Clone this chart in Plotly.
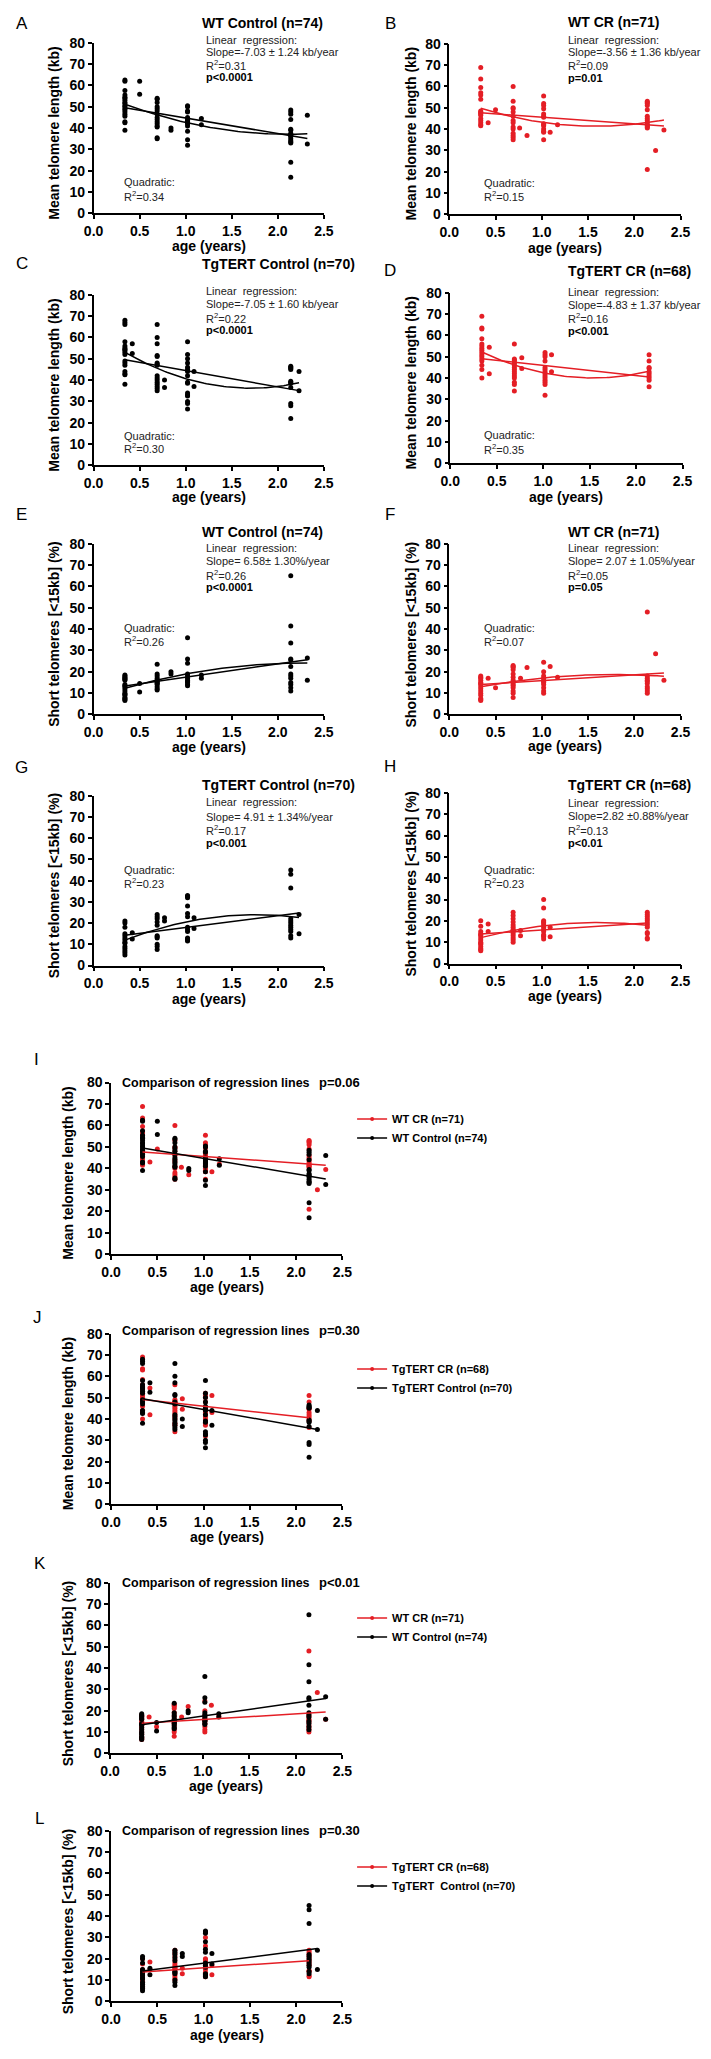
import numpy as np
import plotly.graph_objects as go

# ---- data: {age (years): [values]} ----
wt_ctrl_len = {
    0.34: [62.5, 62, 57.6, 55.5, 54.5, 54, 53, 52, 51.5, 50.5, 50, 49, 48.5, 47.5, 46.5, 45.5, 43, 42.5, 39],
    0.50: [62, 55.8],
    0.69: [54, 53.5, 52, 50, 49, 48, 46.5, 45, 44, 43, 42, 41, 40.5, 35.5, 35],
    0.84: [40, 39],
    1.02: [50.5, 50, 48, 47.5, 45, 44, 43.5, 43, 42.5, 42, 41, 38.5, 34.5, 32],
    1.17: [44.5, 41.5],
    2.14: [48.5, 47.5, 46.5, 44, 39.5, 39, 37.5, 37, 36.5, 36, 35, 34, 33.5, 33, 24, 17],
    2.32: [46, 32.5],
}
wt_cr_len = {
    0.34: [68.8, 63.5, 59.5, 57, 56, 54, 48.5, 48, 47.5, 47, 46.5, 45, 44, 43, 42, 41.5],
    0.42: [43],
    0.50: [49],
    0.69: [60, 53, 50, 49.5, 48, 46, 44, 43, 41, 40, 38, 37, 36, 35],
    0.76: [40.5],
    0.84: [37],
    1.02: [55.5, 52, 51, 49.5, 47, 46, 45.5, 42.5, 42, 41.5, 40, 39, 38.5, 35],
    1.09: [38.5],
    1.17: [42],
    2.14: [53, 52.5, 52, 51, 49, 46, 45, 44, 43, 42, 41.5, 41, 40.5, 21],
    2.23: [30],
    2.32: [39.5],
}
tg_ctrl_len = {
    0.34: [68, 67, 66, 58, 56, 55, 54.5, 54, 53, 52, 49, 48, 47, 44, 43, 42.5, 38],
    0.42: [57, 52.5],
    0.69: [66, 60, 57, 51.5, 51, 48, 47.5, 47, 42, 41, 40, 39, 38, 37, 36, 35],
    0.77: [40, 36.5],
    1.02: [58, 52, 50, 48, 46, 45, 44, 42, 39, 38.5, 34, 33, 32.5, 30, 29, 26.5],
    1.09: [44, 37],
    2.14: [46.5, 46, 45.5, 45, 39.5, 39, 38.5, 36.5, 29, 28, 22],
    2.23: [44, 35],
}
tg_cr_len = {
    0.34: [69, 63.5, 63, 58.5, 56, 55, 54, 53, 52, 51, 50, 49, 48, 46, 44, 40],
    0.42: [54.5, 42],
    0.69: [56, 49, 48.5, 48, 47, 46, 45, 44, 43, 42, 41, 40, 38, 37, 34],
    0.77: [49.5, 44.5],
    1.02: [52, 51, 50, 48, 45, 44, 43, 42, 41, 40, 39, 38, 37, 32],
    1.09: [51, 43],
    2.14: [51, 48, 45, 44.5, 43, 42, 41, 40, 39, 36],
}
wt_ctrl_short = {
    0.34: [18.5, 18, 17.5, 17, 16.5, 16, 14, 13.5, 13, 12, 11, 10, 9.5, 9, 8, 7.5, 7, 6.5],
    0.50: [14.5, 10.5],
    0.69: [23.5, 19, 18, 17, 16, 15.5, 15, 14.5, 14, 13, 12, 11.5],
    0.84: [20, 19],
    1.02: [36, 26, 24, 19, 18, 17, 16, 15.5, 15, 14, 13.5],
    1.17: [18.5, 17],
    2.14: [65, 41.5, 33.5, 26, 25.5, 22.5, 19, 18, 17, 15, 14, 12.5, 11],
    2.32: [26.5, 16],
}
wt_cr_short = {
    0.34: [18, 17.5, 17, 16, 15, 14.5, 14, 13, 12, 11, 10, 9, 7.5, 7, 6.5],
    0.42: [17],
    0.50: [12.5],
    0.69: [23, 22.5, 22, 21, 19, 17.5, 16, 15, 14, 13.5, 12.5, 11, 10, 8],
    0.77: [17],
    0.84: [22],
    1.02: [24.5, 20, 18, 17, 16, 15.5, 15, 14, 12.5, 11, 10],
    1.09: [22.5],
    1.17: [17.5],
    2.14: [48, 18, 17, 16, 15.5, 14.5, 13, 12, 11, 10],
    2.23: [28.5],
    2.32: [16],
}
tg_ctrl_short = {
    0.34: [21, 20, 18, 15, 14, 13, 12, 11, 10.5, 9, 8, 7, 6, 5],
    0.42: [15.5, 12.5],
    0.69: [24, 23, 22, 20.5, 19, 14, 13.5, 13, 10, 9, 7.5],
    0.77: [22.5, 21],
    1.02: [33, 32.5, 32, 28, 24.5, 23, 18, 17, 16, 13, 12.5, 12, 11.5],
    1.09: [22.5, 17.5],
    2.14: [45, 43, 36.5, 22, 21, 20, 19, 18, 17, 16, 14, 13],
    2.23: [24, 15],
}
tg_cr_short = {
    0.34: [20, 17.5, 15, 14, 13.5, 13, 12, 11, 10, 9.5, 9, 8, 7, 6.5, 6],
    0.42: [18.5, 15],
    0.69: [24, 22.5, 21, 19.5, 18, 17, 16, 15.5, 15, 14, 13, 12, 11, 10],
    0.77: [15.5, 13],
    1.02: [30, 26, 20, 19.5, 19, 18, 17, 16, 15, 13.5, 13, 12.5, 11.5],
    1.09: [17, 12.5],
    2.14: [24, 23, 22, 21, 20, 19, 18, 17, 14.5, 14, 12, 11.5],
}

titles = ["WT Control (n=74)", "WT CR (n=71)", "TgTERT Control (n=70)", "TgTERT CR (n=68)",
          "WT Control (n=74)", "WT CR (n=71)", "TgTERT Control (n=70)", "TgTERT CR (n=68)"]
slope_txt = ["Slope=-7.03 ± 1.24 kb/year", "Slope=-3.56 ± 1.36 kb/year",
             "Slope=-7.05 ± 1.60 kb/year", "Slope=-4.83 ± 1.37 kb/year",
             "Slope= 6.58± 1.30%/year", "Slope= 2.07 ± 1.05%/year",
             "Slope= 4.91 ± 1.34%/year", "Slope=2.82 ±0.88%/year"]
lin_r2 = ["0.31", "0.09", "0.22", "0.16", "0.26", "0.05", "0.17", "0.13"]
p_txt = ["p&lt;0.0001", "p=0.01", "p&lt;0.0001", "p&lt;0.001",
         "p&lt;0.0001", "p=0.05", "p&lt;0.001", "p&lt;0.01"]
quad_r2 = ["0.34", "0.15", "0.30", "0.35", "0.26", "0.07", "0.23", "0.23"]
cmp_p = ["p=0.06", "p=0.30", "p&lt;0.01", "p=0.30"]
cmp_names = [("WT CR (n=71)", "WT Control (n=74)"), ("TgTERT CR (n=68)", "TgTERT Control (n=70)"),
             ("WT CR (n=71)", "WT Control (n=74)"), ("TgTERT CR (n=68)", "TgTERT  Control (n=70)")]
ylab_len = "Mean telomere length (kb)"
ylab_short = "Short telomeres [&lt;15kb] (%)"

RED = "#e41e25"
BLACK = "#000000"
TXT = "#222222"
FONT = "Liberation Sans, Arial, sans-serif"
W, H = 711, 2059


def px(x):
    return x / W


def py(y):
    return 1 - y / H


def flat(d):
    xs, ys = [], []
    for a, vals in d.items():
        xs += [a] * len(vals)
        ys += vals
    return np.array(xs), np.array(ys)


def fit(d, deg):
    x, y = flat(d)
    c = np.polyfit(x, y, deg)
    xx = np.linspace(x.min(), x.max(), 80)
    return xx, np.polyval(c, xx)


fig = go.Figure()
ann = []


def txt(x, y, s, size=11, anchor="left", angle=0, color=TXT):
    ann.append(dict(x=px(x), y=py(y), xref="paper", yref="paper", text=s, showarrow=False,
                    xanchor=anchor, yanchor="middle", textangle=angle,
                    font=dict(family=FONT, size=size, color=color)))


def add_axes(i, box):
    x0, x1, y0, y1 = box
    common = dict(showline=True, linecolor="black", linewidth=1.5, ticks="outside", ticklen=4,
                  tickwidth=1.5, tickcolor="black", showgrid=False, zeroline=False,
                  tickfont=dict(family=FONT, size=14, color="black", weight="bold"), fixedrange=True)
    fig.update_layout(**{
        f"xaxis{i}": dict(domain=[px(x0), px(x1)], range=[0, 2.5], anchor=f"y{i}",
                          tickvals=[0, 0.5, 1, 1.5, 2, 2.5],
                          ticktext=["0.0", "0.5", "1.0", "1.5", "2.0", "2.5"], **common),
        f"yaxis{i}": dict(domain=[py(y1), py(y0)], range=[0, 80], anchor=f"x{i}",
                          tickvals=list(range(0, 81, 10)), **common),
    })


# ---- panels A-H ----
top_data = [wt_ctrl_len, wt_cr_len, tg_ctrl_len, tg_cr_len,
            wt_ctrl_short, wt_cr_short, tg_ctrl_short, tg_cr_short]
top_boxes = [(86, 323, 35, 207), (452, 690, 36, 208), (86, 323, 289, 461), (453, 692, 287, 459),
             (86, 323, 540, 712), (452, 690, 540, 712), (86, 323, 794, 965), (452, 690, 791, 963)]
letters = ["A", "B", "C", "D", "E", "F", "G", "H"]
letter_pos = [(12, 16), (391, 16), (12, 258), (391, 265), (12, 510), (391, 510), (12, 765), (391, 764)]
title_y = [15, 14, 258, 265, 528, 528, 783, 783]
stat_y = [[32, 44, 57, 70], [32, 44, 57, 71], [285, 298, 312, 325], [286, 299, 312, 326],
          [544, 557, 571, 584], [544, 557, 571, 584], [800, 815, 828, 842], [801, 814, 828, 842]]
quad_y = [(175, 189), (176, 189), (431, 443), (430, 444), (625, 638), (625, 638), (869, 882), (869, 882)]
xt_y = [240, 242, 493, 493, 745, 744, 999, 996]

for k in range(8):
    i = k + 1
    box = top_boxes[k]
    add_axes(i, box)
    col = BLACK if k % 2 == 0 else RED
    x, y = flat(top_data[k])
    fig.add_trace(go.Scatter(x=x, y=y, mode="markers", marker=dict(size=5, color=col),
                             xaxis=f"x{i}", yaxis=f"y{i}", showlegend=False, cliponaxis=False))
    for deg in (1, 2):
        xx, yy = fit(top_data[k], deg)
        fig.add_trace(go.Scatter(x=xx, y=yy, mode="lines", line=dict(color=col, width=1.5),
                                 xaxis=f"x{i}", yaxis=f"y{i}", showlegend=False))
    left = k % 2 == 0
    txt(*letter_pos[k], letters[k], size=17, anchor="center", color="black")
    txt(195 if left else 572, title_y[k], f"<b>{titles[k]}</b>", size=14, color="black")
    sx = 200 if left else 572
    sy = stat_y[k]
    txt(sx, sy[0], "Linear  regression:")
    txt(sx, sy[1], slope_txt[k])
    txt(sx, sy[2], f"R<sup>2</sup>={lin_r2[k]}")
    txt(sx, sy[3], f"<b>{p_txt[k]}</b>", color="black")
    qx = 115 if left else 486
    txt(qx, quad_y[k][0], "Quadratic:")
    txt(qx, quad_y[k][1], f"R<sup>2</sup>={quad_r2[k]}")
    txt((box[0] + box[1]) / 2, xt_y[k], "<b>age (years)</b>", size=14, anchor="center", color="black")
    txt(45 if left else 413, (box[2] + box[3]) / 2 + 5, f"<b>{ylab_len if k < 4 else ylab_short}</b>",
        size=14, anchor="center", angle=-90, color="black")

# ---- panels I-L: comparison of regression lines ----
cmp_pairs = [(wt_cr_len, wt_ctrl_len), (tg_cr_len, tg_ctrl_len),
             (wt_cr_short, wt_ctrl_short), (tg_cr_short, tg_ctrl_short)]
bot_boxes = [(104, 342, 1083, 1256), (104, 342, 1336, 1508), (103, 342, 1587, 1759), (104, 342, 1837, 2009)]
bot_letters = ["I", "J", "K", "L"]
bot_letter_pos = [(27, 1060), (28, 1320), (31, 1568), (30, 1825)]
bot_title_y = [1083, 1333, 1587, 1837]
bot_leg_y = [1105, 1357, 1608, 1859]
bot_xt_y = [1289, 1541, 1792, 2043]
legend_names = ["legend", "legend2", "legend3", "legend4"]

for k in range(4):
    i = 9 + k
    box = bot_boxes[k]
    add_axes(i, box)
    lg = legend_names[k]
    for d, col in zip(cmp_pairs[k], (RED, BLACK)):
        x, y = flat(d)
        fig.add_trace(go.Scatter(x=x, y=y, mode="markers", marker=dict(size=5, color=col),
                                 xaxis=f"x{i}", yaxis=f"y{i}", showlegend=False, cliponaxis=False))
    for d, col, name in zip(cmp_pairs[k], (RED, BLACK), cmp_names[k]):
        xx, yy = fit(d, 1)
        fig.add_trace(go.Scatter(x=xx, y=yy, mode="lines", line=dict(color=col, width=1.5),
                                 xaxis=f"x{i}", yaxis=f"y{i}", showlegend=False))
        fig.add_trace(go.Scatter(x=[None], y=[None], mode="lines+markers", name=name,
                                 line=dict(color=col, width=1.5), marker=dict(size=4, color=col),
                                 xaxis=f"x{i}", yaxis=f"y{i}", legend=lg))
    fig.update_layout(**{lg: dict(x=px(352), y=py(bot_leg_y[k]), xanchor="left", yanchor="top",
                                  bgcolor="rgba(0,0,0,0)", tracegroupgap=0, itemwidth=30,
                                  font=dict(family=FONT, size=11, color="black", weight="bold"))})
    txt(*bot_letter_pos[k], bot_letters[k], size=17, anchor="center", color="black")
    txt(113, bot_title_y[k], "<b>Comparison of regression lines</b>", size=12.5, color="black")
    txt(316, bot_title_y[k], f"<b>{cmp_p[k]}</b>", size=13, color="black")
    txt((box[0] + box[1]) / 2, bot_xt_y[k], "<b>age (years)</b>", size=14, anchor="center", color="black")
    txt(60, (box[2] + box[3]) / 2 + 5, f"<b>{ylab_len if k < 2 else ylab_short}</b>",
        size=14, anchor="center", angle=-90, color="black")

fig.update_layout(width=W, height=H, margin=dict(l=0, r=0, t=0, b=0),
                  paper_bgcolor="white", plot_bgcolor="white", annotations=ann,
                  font=dict(family=FONT))
fig.write_html("out.html", config={"displayModeBar": False},
               post_script="document.body.style.margin='0';document.body.style.padding='0';")
